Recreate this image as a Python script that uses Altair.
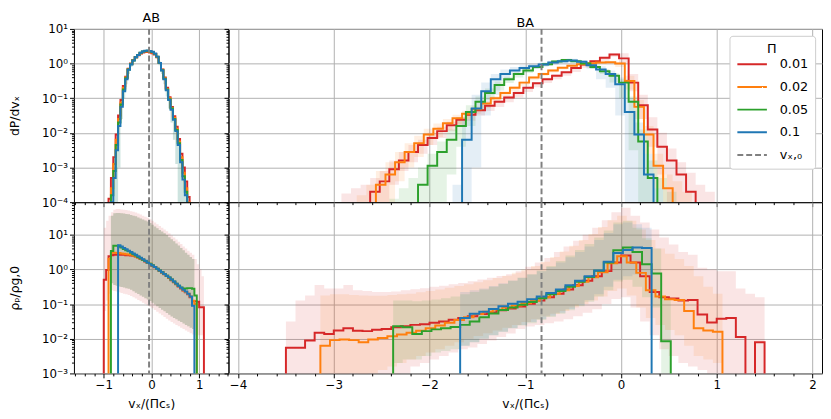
import altair as alt
import pandas as pd

SERIES = ["0.01", "0.02", "0.05", "0.1"]
SERIES_COLORS = ["#d62728", "#ff7f0e", "#2ca02c", "#1f77b4"]
V0_KEY = "vx0"
V0_LABEL = "vₓ,₀"
V0_COLOR = "#808080"

AB_XDOM = [-1.625, 1.615]
BA_XDOM = [-4.1, 2.1]
TOP_YDOM = [1e-4, 10.0]
BOT_YDOM = [1e-3, 87.0]
V0_AB = -0.05
V0_BA = -0.83
AB_BIN = 0.05
BA_BIN = 0.1

# ---------------- AB, dP/dv_x  (log10 of bin value; bins start at *_START) -------------
AB_TOP_RED_START = -0.90
AB_TOP_RED = [-3.9, -3.3, -2.7, -2.05, -1.5, -1.05, -0.65, -0.38, -0.15, 0.0, 0.1, 0.18, 0.24, 0.29, 0.32, 0.33,
              0.33, 0.32, 0.3, 0.26, 0.18, 0.02, -0.17, -0.4, -0.7, -0.97, -1.25, -1.52, -1.82, -2.18, -2.6,
              -3.0, -3.4, -3.85]
AB_TOP_ORANGE_START = -0.85
AB_TOP_ORANGE = [-3.6, -2.9, -2.2, -1.6, -1.12, -0.7, -0.4, -0.16, -0.01, 0.1, 0.18, 0.25, 0.3, 0.34, 0.35, 0.35,
                 0.34, 0.32, 0.28, 0.19, 0.02, -0.18, -0.42, -0.73, -1.0, -1.28, -1.56, -1.88, -2.25, -2.7,
                 -3.15, -3.6, -4.0]
AB_TOP_GREEN_START = -0.85
AB_TOP_GREEN = [-3.8, -3.1, -2.35, -1.7, -1.18, -0.75, -0.42, -0.17, -0.02, 0.09, 0.18, 0.25, 0.31, 0.35, 0.36,
                0.37, 0.35, 0.33, 0.28, 0.2, 0.02, -0.19, -0.44, -0.75, -1.03, -1.3, -1.6, -1.92, -2.3, -2.78,
                -3.25, -3.7]
AB_TOP_BLUE_START = -0.85
AB_TOP_BLUE = [-4.0, -3.3, -2.5, -1.8, -1.25, -0.8, -0.45, -0.18, -0.03, 0.09, 0.18, 0.25, 0.31, 0.35, 0.37,
               0.375, 0.36, 0.34, 0.29, 0.2, 0.02, -0.2, -0.45, -0.77, -1.05, -1.33, -1.62, -1.95, -2.35, -2.85,
               -3.35, -3.8]
AB_TOP_BAND_START = -0.85
AB_TOP_BAND_LO = [-4.5, -4.5, -4.5, -3.0, -1.6, -1.0, -0.6, -0.3, -0.1, 0.05, 0.15, 0.22, 0.28, 0.32, 0.34, 0.35,
                  0.33, 0.31, 0.25, 0.15, -0.05, -0.3, -0.6, -0.95, -1.3, -1.7, -2.2, -2.9, -4.5, -4.5, -4.5, -4.5]
AB_TOP_BAND_HI = [-3.6, -3.0, -2.3, -1.65, -1.15, -0.72, -0.4, -0.15, 0.0, 0.12, 0.2, 0.27, 0.33, 0.37, 0.39,
                  0.39, 0.38, 0.36, 0.31, 0.23, 0.06, -0.15, -0.4, -0.7, -0.98, -1.25, -1.55, -1.88, -2.25, -2.75,
                  -3.2, -3.65]

# ---------------- AB, rho_p/rho_g,0 ----------------
AB_BOT_RED_START = -1.00
AB_BOT_RED = [-0.30, -0.02, 0.38, 0.41, 0.42, 0.42, 0.42, 0.42, 0.42, 0.41, 0.41, 0.40, 0.39, 0.37, 0.34, 0.31,
              0.27, 0.23, 0.19, 0.15, 0.10, 0.06, 0.01, -0.04, -0.09, -0.14, -0.19, -0.25, -0.31, -0.37, -0.43,
              -0.49, -0.55, -0.61, -0.66, -0.72, -0.8, -0.92, -0.92, -0.93, -1.09, -1.09]
AB_BOT_ORANGE_START = -0.90
AB_BOT_ORANGE = [0.31, 0.48, 0.48, 0.47, 0.47, 0.46, 0.45, 0.44, 0.43, 0.42, 0.40, 0.38, 0.35, 0.32, 0.28, 0.24,
                 0.20, 0.16, 0.11, 0.07, 0.02, -0.03, -0.08, -0.13, -0.18, -0.24, -0.30, -0.36, -0.42, -0.48,
                 -0.54, -0.60, -0.65, -0.70, -0.78, -0.9, -1.0]
AB_BOT_GREEN_START = -0.85
AB_BOT_GREEN = [0.53, 0.68, 0.68, 0.66, 0.63, 0.59, 0.55, 0.52, 0.48, 0.44, 0.40, 0.36, 0.32, 0.28, 0.24, 0.20,
                0.16, 0.12, 0.07, 0.02, -0.03, -0.08, -0.13, -0.18, -0.23, -0.29, -0.35, -0.41, -0.47, -0.52,
                -0.56, -0.55, -0.54, -0.54, -0.56, -0.75]
AB_BOT_BLUE_START = -0.70
AB_BOT_BLUE = [0.70, 0.66, 0.62, 0.58, 0.54, 0.50, 0.46, 0.42, 0.38, 0.34, 0.29, 0.25, 0.20, 0.15, 0.11, 0.07,
               0.02, -0.03, -0.08, -0.13, -0.18, -0.23, -0.29, -0.35, -0.41, -0.47, -0.53, -0.59, -0.64, -0.70,
               -0.78, -1.05]
AB_BOT_BAND_START = -0.85
AB_BOT_BAND_HI = [1.55, 1.62, 1.63, 1.63, 1.62, 1.61, 1.60, 1.59, 1.57, 1.55, 1.53, 1.5, 1.47, 1.44, 1.41, 1.38,
                  1.34, 1.29, 1.24, 1.19, 1.14, 1.09, 1.04, 0.99, 0.93, 0.87, 0.81, 0.75, 0.69, 0.62, 0.55, 0.48,
                  0.42, 0.36, 0.3]
AB_BOT_BAND_LO = [-0.4, -0.45, -0.47, -0.49, -0.51, -0.52, -0.54, -0.56, -0.59, -0.63, -0.67, -0.71, -0.75,
                  -0.79, -0.83, -0.87, -0.91, -0.96, -1.01, -1.06, -1.11, -1.16, -1.21, -1.26, -1.31, -1.36, -1.4,
                  -1.44, -1.48, -1.52, -1.56, -1.6, -1.64, -1.68, -1.72]
AB_BOT_RED_BAND_START = -1.00
AB_BOT_RED_BAND_HI = [1.2, 1.4, 1.55, 1.65, 1.72, 1.74, 1.74, 1.73, 1.72, 1.71, 1.70, 1.68, 1.66, 1.64, 1.61, 1.58,
                      1.55, 1.52, 1.49, 1.45, 1.4, 1.35, 1.3, 1.25, 1.2, 1.15, 1.1, 1.04, 0.98, 0.92, 0.86, 0.8,
                      0.73, 0.66, 0.6, 0.54, 0.48, 0.42, 0.3, 0.15, 0.0, -0.2]
AB_BOT_RED_BAND_LO = [-1.2, -0.9, -0.7, -0.6, -0.62, -0.64, -0.66, -0.68, -0.7, -0.72, -0.74, -0.77, -0.8, -0.84,
                      -0.88, -0.92, -0.96, -1.0, -1.04, -1.08, -1.12, -1.17, -1.22, -1.27, -1.32, -1.37, -1.42,
                      -1.47, -1.52, -1.56, -1.6, -1.64, -1.68, -1.72, -1.76, -1.8, -1.84, -1.88, -1.9, -1.9, -1.9,
                      -1.9]

# ---------------- BA, dP/dv_x ----------------
BA_TOP_RED_START = -2.62
BA_TOP_RED = [-3.7, -3.4, -3.05, -2.8, -2.55, -2.35, -2.15, -1.95, -1.78, -1.62, -1.48, -1.35, -1.22, -1.1, -0.98,
              -0.85, -0.7, -0.57, -0.45, -0.35, -0.25, -0.13, -0.03, 0.07, 0.17, 0.26, 0.15, -0.55, -1.2, -1.9,
              -2.4, -2.8, -3.2, -3.7]
BA_TOP_RED_BAND_START = -2.92
BA_TOP_RED_BAND_HI = [-3.75, -3.6, -3.5, -3.3, -3.1, -2.8, -2.55, -2.35, -2.2, -2.0, -1.82, -1.68, -1.54, -1.42,
                      -1.3, -1.17, -1.05, -0.93, -0.8, -0.66, -0.53, -0.41, -0.31, -0.21, -0.1, 0.0, 0.1, 0.2, 0.3,
                      0.3, -0.3, -0.9, -1.55, -2.0, -2.45, -2.85, -3.15, -3.5, -3.7]
BA_TOP_RED_BAND_LO = [-4.5, -4.5, -4.5, -4.5, -4.0, -3.5, -3.1, -2.85, -2.6, -2.35, -2.15, -1.95, -1.8, -1.65,
                      -1.5, -1.37, -1.25, -1.12, -0.98, -0.82, -0.68, -0.56, -0.45, -0.35, -0.24, -0.12, -0.02,
                      0.08, 0.2, 0.0, -0.8, -1.6, -2.4, -3.2, -4.5, -4.5, -4.5, -4.5, -4.5]
BA_TOP_ORANGE_START = -2.56
BA_TOP_ORANGE = [-3.5, -3.2, -2.85, -2.55, -2.3, -2.05, -1.88, -1.72, -1.58, -1.45, -1.32, -1.15, -1.0, -0.85,
                 -0.7, -0.55, -0.4, -0.3, -0.2, -0.12, -0.06, -0.02, 0.01, 0.03, 0.04, 0.0, -0.5, -1.25, -2.05,
                 -2.95, -3.6]
BA_TOP_ORANGE_BAND_START = -2.76
BA_TOP_ORANGE_BAND_HI = [-3.8, -3.5, -3.1, -2.85, -2.55, -2.3, -2.08, -1.88, -1.73, -1.6, -1.48, -1.36, -1.24,
                         -1.08, -0.94, -0.8, -0.65, -0.5, -0.36, -0.26, -0.16, -0.09, -0.03, 0.01, 0.04, 0.06,
                         0.07, 0.05, -0.35, -1.05, -1.8, -2.6, -3.2, -3.4, -3.7]
BA_TOP_ORANGE_BAND_LO = [-4.5, -4.5, -4.5, -4.0, -3.4, -3.0, -2.7, -2.35, -2.12, -1.92, -1.75, -1.6, -1.45, -1.28,
                         -1.12, -0.96, -0.8, -0.64, -0.48, -0.36, -0.26, -0.17, -0.1, -0.06, -0.03, -0.01, 0.0,
                         -0.1, -0.75, -1.6, -2.6, -3.6, -4.5, -4.5, -4.5]
BA_TOP_GREEN_START = -2.12
BA_TOP_GREEN = [-3.5, -2.95, -2.55, -2.2, -1.8, -1.4, -1.1, -0.85, -0.62, -0.45, -0.3, -0.2, -0.1, -0.02, 0.06,
                0.1, 0.07, 0.0, -0.1, -0.22, -0.35, -0.55, -1.1, -2.25, -3.3]
BA_TOP_GREEN_BAND_START = -2.42
BA_TOP_GREEN_BAND_HI = [-3.9, -3.6, -3.3, -3.0, -2.6, -2.25, -1.9, -1.55, -1.2, -0.95, -0.72, -0.52, -0.38, -0.25,
                        -0.16, -0.06, 0.02, 0.1, 0.14, 0.11, 0.04, -0.05, -0.16, -0.28, -0.45, -0.95, -1.9, -2.8,
                        -3.3, -3.7]
BA_TOP_GREEN_BAND_LO = [-4.5, -4.5, -4.5, -4.5, -4.5, -4.0, -3.2, -2.4, -1.8, -1.35, -1.05, -0.78, -0.56, -0.4,
                        -0.27, -0.16, -0.06, 0.02, 0.06, 0.03, -0.05, -0.16, -0.3, -0.55, -1.0, -2.5, -4.5, -4.5,
                        -4.5, -4.5]
BA_TOP_BLUE_START = -1.66
BA_TOP_BLUE = [-2.2, -1.3, -0.8, -0.45, -0.3, -0.2, -0.13, -0.08, -0.03, 0.03, 0.07, 0.09, 0.05, -0.05, -0.17,
               -0.3, -0.6, -1.4, -2.05, -3.2]
BA_TOP_BLUE_BAND_START = -1.76
BA_TOP_BLUE_BAND_HI = [-3.5, -1.6, -0.9, -0.55, -0.3, -0.17, -0.1, -0.05, -0.01, 0.03, 0.08, 0.12, 0.14, 0.1,
                       0.02, -0.08, -0.2, -0.4, -1.0, -1.7, -2.6, -3.6]
BA_TOP_BLUE_BAND_LO = [-4.5, -4.5, -3.0, -1.5, -0.9, -0.5, -0.33, -0.22, -0.15, -0.09, -0.03, 0.01, 0.04, -0.02,
                       -0.15, -0.45, -0.7, -1.5, -4.5, -4.5, -4.5, -4.5]

# ---------------- BA, rho_p/rho_g,0 ----------------
BA_BOT_RED_START = -3.50
BA_BOT_RED = [-2.26, -2.26, -2.05, -1.83, -1.86, -1.76, -1.7, -1.77, -1.78, -1.74, -1.72, -1.67, -1.64, -1.6,
              -1.58, -1.54, -1.5, -1.45, -1.4, -1.35, -1.29, -1.24, -1.18, -1.13, -1.07, -0.99, -0.9, -0.8, -0.7,
              -0.58, -0.46, -0.33, -0.2, -0.05, 0.2, 0.4, 0.2, -0.2, -0.65, -0.8, -0.84, -0.9, -0.88, -1.3,
              -1.53, -1.42, -1.4, -1.95, -5.0, -2.1]
BA_BOT_RED_BAND_HI = [-1.5, -0.9, -0.75, -0.45, -0.55, -0.55, -0.45, -0.6, -0.62, -0.65, -0.65, -0.64, -0.6,
                      -0.57, -0.54, -0.5, -0.47, -0.43, -0.39, -0.34, -0.29, -0.24, -0.19, -0.14, -0.05, 0.08,
                      0.2, 0.33, 0.5, 0.66, 0.83, 1.0, 1.2, 1.42, 1.65, 1.78, 1.55, 1.35, 1.15, 0.92, 0.72, 0.5,
                      0.42, 0.05, 0.0, -0.05, -0.05, -0.55, -0.7, -0.8]
BA_BOT_RED_BAND_LO = [-3.5, -3.5, -3.5, -3.5, -3.5, -3.5, -3.5, -3.5, -3.5, -3.5, -3.5, -3.5, -3.0, -2.8, -2.7,
                      -2.6, -2.5, -2.4, -2.3, -2.25, -2.15, -2.05, -1.95, -1.85, -1.72, -1.65, -1.6, -1.55, -1.5,
                      -1.44, -1.35, -1.25, -1.15, -1.0, -0.85, -0.8, -1.1, -1.5, -1.9, -2.3, -2.5, -2.7, -2.8,
                      -2.9, -3.0, -3.5, -3.5, -3.5, -3.5, -3.5]
BA_BOT_ORANGE_START = -3.14
BA_BOT_ORANGE = [-2.2, -2.04, -2.02, -2.04, -2.1, -2.02, -1.98, -1.93, -1.88, -1.83, -1.77, -1.7, -1.62, -1.54,
                 -1.46, -1.38, -1.29, -1.22, -1.16, -1.1, -1.04, -0.97, -0.9, -0.8, -0.7, -0.6, -0.48, -0.36,
                 -0.23, -0.08, 0.18, 0.38, 0.2, -0.1, -0.6, -0.78, -0.86, -0.88, -1.2, -1.7, -1.76, -1.8]
BA_BOT_ORANGE_BAND_HI = [-0.75, -0.72, -0.72, -0.74, -0.75, -0.76, -0.76, -0.74, -0.72, -0.7, -0.66, -0.62,
                         -0.58, -0.53, -0.48, -0.43, -0.37, -0.31, -0.25, -0.18, -0.1, 0.0, 0.1, 0.22, 0.36, 0.52,
                         0.68, 0.85, 1.02, 1.22, 1.42, 1.55, 1.4, 1.15, 0.85, 0.6, 0.45, 0.3, 0.1, -0.2, -0.5,
                         -0.7]
BA_BOT_ORANGE_BAND_LO = [-3.5, -3.5, -3.2, -3.0, -3.1, -3.0, -2.9, -2.8, -2.7, -2.6, -2.5, -2.4, -2.3, -2.2,
                         -2.1, -2.0, -1.92, -1.84, -1.76, -1.68, -1.6, -1.52, -1.44, -1.36, -1.28, -1.2, -1.1,
                         -1.0, -0.9, -0.78, -0.62, -0.55, -0.75, -1.1, -1.4, -1.6, -1.75, -1.9, -2.2, -2.5, -2.6,
                         -2.7]
BA_BOT_GREEN_START = -2.38
BA_BOT_GREEN = [-1.64, -1.67, -1.86, -1.78, -1.73, -1.7, -1.66, -1.6, -1.5, -1.38, -1.27, -1.17, -1.1, -1.02,
                -0.94, -0.83, -0.72, -0.62, -0.5, -0.36, -0.22, -0.04, 0.2, 0.55, 0.63, 0.5, 0.15, -0.12, -2.07]
BA_BOT_GREEN_BAND_HI = [-0.9, -0.9, -0.92, -0.9, -0.87, -0.83, -0.78, -0.72, -0.65, -0.58, -0.5, -0.42, -0.33,
                        -0.24, -0.14, -0.03, 0.1, 0.24, 0.4, 0.56, 0.73, 0.92, 1.12, 1.35, 1.4, 1.2, 0.9, 0.6,
                        -0.8]
BA_BOT_GREEN_BAND_LO = [-2.7, -2.6, -2.6, -2.5, -2.4, -2.35, -2.3, -2.2, -2.1, -2.0, -1.9, -1.8, -1.7, -1.62,
                        -1.55, -1.46, -1.37, -1.28, -1.18, -1.06, -0.93, -0.78, -0.6, -0.35, -0.3, -0.5, -0.8,
                        -1.1, -3.0]
BA_BOT_BLUE_START = -1.68
BA_BOT_BLUE = [-1.4, -1.28, -1.22, -1.14, -1.06, -0.99, -0.93, -0.86, -0.78, -0.68, -0.58, -0.46, -0.33, -0.2,
               -0.03, 0.22, 0.47, 0.56, 0.63, 0.62]
BA_BOT_BLUE_BAND_HI = [-0.65, -0.6, -0.55, -0.48, -0.4, -0.32, -0.24, -0.15, -0.05, 0.07, 0.2, 0.35, 0.5, 0.66,
                       0.85, 1.05, 1.3, 1.35, 1.3, 1.2]
BA_BOT_BLUE_BAND_LO = [-2.2, -2.1, -2.0, -1.9, -1.8, -1.7, -1.6, -1.52, -1.43, -1.34, -1.25, -1.14, -1.02, -0.88,
                       -0.72, -0.5, -0.3, -0.2, -0.15, -0.2]

FLOOR = 1e-7
BAND_OPACITY = 0.12


def line_frame(start, width, logs, key):
    xs, ys = [start], [FLOOR]
    for i, lv in enumerate(logs):
        xs.append(start + i * width)
        ys.append(10.0 ** lv)
    end = start + len(logs) * width
    xs += [end, end]
    ys += [10.0 ** logs[-1], FLOOR]
    return pd.DataFrame({"x": xs, "y": ys, "o": list(range(len(xs))), "series": key})


def band_frame(start, width, lo, hi):
    n = min(len(lo), len(hi))
    xs = [start + i * width for i in range(n)] + [start + n * width]
    los = [10.0 ** v for v in lo[:n]] + [10.0 ** lo[n - 1]]
    his = [10.0 ** v for v in hi[:n]] + [10.0 ** hi[n - 1]]
    return pd.DataFrame({"x": xs, "y": his, "lo": los})


def sup(e):
    table = {"-": "⁻", "0": "⁰", "1": "¹", "2": "²", "3": "³", "4": "⁴"}
    return "10" + "".join(table[c] for c in str(e))


LOG10 = "(log(datum.value)/LN10)"
Y_MAJOR = f"abs({LOG10} - round({LOG10})) < 0.01"
X_MAJOR = "abs(datum.value - round(datum.value)) < 0.01"


def y_label_expr(exps):
    inner = "''"
    for e in reversed(exps):
        inner = f"round({LOG10}) == {e} ? '{sup(e)}' : ({inner})"
    return f"{Y_MAJOR} ? ({inner}) : ''"


def y_ticks(lo_exp, hi_exp, top):
    vals = []
    for e in range(lo_exp, hi_exp + 1):
        for m in range(1, 10):
            v = m * 10.0 ** e
            if v <= top * 1.0001:
                vals.append(v)
    return vals


COLOR_SCALE = alt.Scale(domain=SERIES + [V0_KEY], range=SERIES_COLORS + [V0_COLOR])
DASH_SCALE = alt.Scale(domain=SERIES + [V0_KEY], range=[[1, 0]] * 4 + [[6, 3]])

LEGEND = alt.Legend(title="Π", orient="top-right", offset=7, symbolType="stroke", symbolSize=900,
                    symbolStrokeWidth=2, labelFontSize=13, titleFontSize=13, titleFontWeight="normal",
                    titleAnchor="middle", titlePadding=-7, fillColor="white", strokeColor="#cccccc",
                    padding=7, cornerRadius=3, rowPadding=0, labelOffset=12,
                    labelExpr=f"datum.label == '{V0_KEY}' ? '{V0_LABEL}' : datum.label")


def make_panel(lines, bands, xdom, ydom, yexps, v0, w, h, xlabels, ylabels, ytitle, title, legend):
    xvals = [round(x * 0.2, 1) for x in range(-25, 26) if xdom[0] <= x * 0.2 <= xdom[1]]
    xaxis_kw = dict(values=xvals, labels=xlabels, grid=True, domain=False, labelOverlap=False,
                    labelFlush=False, labelPadding=2, titlePadding=7,
                    tickSize={"condition": {"test": X_MAJOR, "value": 4.5}, "value": 2.5},
                    gridOpacity={"condition": {"test": X_MAJOR, "value": 1}, "value": 0},
                    labelExpr=f"{X_MAJOR} ? format(round(datum.value), 'd') : ''")
    xaxis = alt.Axis(title="vₓ/(Πcₛ)" if xlabels else None, **xaxis_kw)
    yvals = y_ticks(yexps[0], yexps[-1], ydom[1])
    yaxis = alt.Axis(values=yvals, labels=ylabels, grid=True, domain=False, labelOverlap=False,
                     labelPadding=2, title=ytitle if ylabels else None, titlePadding=20,
                     tickSize={"condition": {"test": Y_MAJOR, "value": 4.5}, "value": 2.5},
                     gridOpacity={"condition": {"test": Y_MAJOR, "value": 1}, "value": 0},
                     labelExpr=y_label_expr(yexps))
    xenc = alt.X("x:Q", scale=alt.Scale(domain=xdom, nice=False, zero=False), axis=xaxis)
    yenc = alt.Y("y:Q", scale=alt.Scale(type="log", domain=ydom, nice=False), axis=yaxis)
    leg = LEGEND if legend else None
    layers = []
    for col, b in zip(SERIES_COLORS, bands):
        if b is None:
            continue
        df = band_frame(b[0], b[1], b[2], b[3])
        layers.append(
            alt.Chart(df).mark_area(interpolate="step-after", opacity=BAND_OPACITY, color=col, clip=True)
            .encode(x=xenc, y=yenc, y2=alt.Y2("lo")))
    for key, (start, width, logs) in zip(SERIES, lines):
        df = line_frame(start, width, logs, key)
        layers.append(
            alt.Chart(df).mark_line(interpolate="step-after", strokeWidth=2, clip=True).encode(
                x=xenc, y=yenc,
                color=alt.Color("series:N", scale=COLOR_SCALE, legend=leg),
                strokeDash=alt.StrokeDash("series:N", scale=DASH_SCALE, legend=leg),
                order="o:Q"))
    vdf = pd.DataFrame({"x": [v0], "series": [V0_KEY]})
    layers.append(
        alt.Chart(vdf).mark_rule(strokeWidth=2).encode(
            x=xenc,
            color=alt.Color("series:N", scale=COLOR_SCALE, legend=leg),
            strokeDash=alt.StrokeDash("series:N", scale=DASH_SCALE, legend=leg)))
    props = dict(width=w, height=h)
    if title:
        props["title"] = alt.TitleParams(text=title, fontSize=13, fontWeight="normal", offset=-2,
                                         anchor="middle")
    return alt.layer(*layers).properties(**props)


W_AB, W_BA, H_TOP, H_BOT = 157, 603, 176, 174

ab_top = make_panel(
    [(AB_TOP_RED_START, AB_BIN, AB_TOP_RED), (AB_TOP_ORANGE_START, AB_BIN, AB_TOP_ORANGE),
     (AB_TOP_GREEN_START, AB_BIN, AB_TOP_GREEN), (AB_TOP_BLUE_START, AB_BIN, AB_TOP_BLUE)],
    [None, None,
     (AB_TOP_BAND_START, AB_BIN, AB_TOP_BAND_LO, AB_TOP_BAND_HI),
     (AB_TOP_BAND_START, AB_BIN, AB_TOP_BAND_LO, AB_TOP_BAND_HI)],
    AB_XDOM, TOP_YDOM, [-4, -3, -2, -1, 0, 1], V0_AB, W_AB, H_TOP, False, True, "dP/dvₓ", "AB", False)

ba_top = make_panel(
    [(BA_TOP_RED_START, BA_BIN, BA_TOP_RED), (BA_TOP_ORANGE_START, BA_BIN, BA_TOP_ORANGE),
     (BA_TOP_GREEN_START, BA_BIN, BA_TOP_GREEN), (BA_TOP_BLUE_START, BA_BIN, BA_TOP_BLUE)],
    [(BA_TOP_RED_BAND_START, BA_BIN, BA_TOP_RED_BAND_LO, BA_TOP_RED_BAND_HI),
     (BA_TOP_ORANGE_BAND_START, BA_BIN, BA_TOP_ORANGE_BAND_LO, BA_TOP_ORANGE_BAND_HI),
     (BA_TOP_GREEN_BAND_START, BA_BIN, BA_TOP_GREEN_BAND_LO, BA_TOP_GREEN_BAND_HI),
     (BA_TOP_BLUE_BAND_START, BA_BIN, BA_TOP_BLUE_BAND_LO, BA_TOP_BLUE_BAND_HI)],
    BA_XDOM, TOP_YDOM, [-4, -3, -2, -1, 0, 1], V0_BA, W_BA, H_TOP, False, False, None, "BA", True)

ab_bot = make_panel(
    [(AB_BOT_RED_START, AB_BIN, AB_BOT_RED), (AB_BOT_ORANGE_START, AB_BIN, AB_BOT_ORANGE),
     (AB_BOT_GREEN_START, AB_BIN, AB_BOT_GREEN), (AB_BOT_BLUE_START, AB_BIN, AB_BOT_BLUE)],
    [(AB_BOT_RED_BAND_START, AB_BIN, AB_BOT_RED_BAND_LO, AB_BOT_RED_BAND_HI),
     (AB_BOT_BAND_START, AB_BIN, AB_BOT_BAND_LO, AB_BOT_BAND_HI),
     (AB_BOT_BAND_START, AB_BIN, AB_BOT_BAND_LO, AB_BOT_BAND_HI),
     (AB_BOT_BAND_START, AB_BIN, AB_BOT_BAND_LO, AB_BOT_BAND_HI)],
    AB_XDOM, BOT_YDOM, [-3, -2, -1, 0, 1], V0_AB, W_AB, H_BOT, True, True, "ρₚ/ρg,0", None, False)

ba_bot = make_panel(
    [(BA_BOT_RED_START, BA_BIN, BA_BOT_RED), (BA_BOT_ORANGE_START, BA_BIN, BA_BOT_ORANGE),
     (BA_BOT_GREEN_START, BA_BIN, BA_BOT_GREEN), (BA_BOT_BLUE_START, BA_BIN, BA_BOT_BLUE)],
    [(BA_BOT_RED_START, BA_BIN, BA_BOT_RED_BAND_LO, BA_BOT_RED_BAND_HI),
     (BA_BOT_ORANGE_START, BA_BIN, BA_BOT_ORANGE_BAND_LO, BA_BOT_ORANGE_BAND_HI),
     (BA_BOT_GREEN_START, BA_BIN, BA_BOT_GREEN_BAND_LO, BA_BOT_GREEN_BAND_HI),
     (BA_BOT_BLUE_START, BA_BIN, BA_BOT_BLUE_BAND_LO, BA_BOT_BLUE_BAND_HI)],
    BA_XDOM, BOT_YDOM, [-3, -2, -1, 0, 1], V0_BA, W_BA, H_BOT, True, False, None, None, False)

RES = dict(color="independent", strokeDash="independent")

chart = alt.concat(ab_top, ba_top, ab_bot, ba_bot, columns=2, spacing=0, bounds="flush") \
    .resolve_scale(**RES).resolve_legend(**RES) \
    .properties(padding={"left": 0, "top": 0, "right": 0, "bottom": 2})

chart = chart.configure(font="DejaVu Sans").configure_view(
    stroke="black", strokeWidth=1
).configure_axis(
    labelFont="DejaVu Sans", titleFont="DejaVu Sans", labelFontSize=12, titleFontSize=12.5,
    labelColor="black", titleColor="black", titleFontWeight="normal", tickColor="black",
    gridColor="#b0b0b0", gridWidth=1
).configure_legend(
    labelFont="DejaVu Sans", titleFont="DejaVu Sans", labelColor="black", titleColor="black"
)

chart.save("out.html", embed_options={"renderer": "svg", "actions": False})
